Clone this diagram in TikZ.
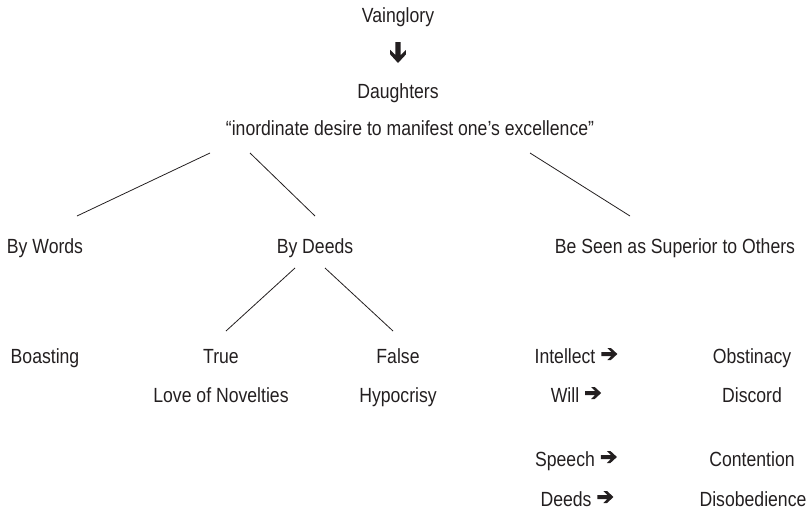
\documentclass[tikz,border=0pt]{standalone}
\usepackage{fontspec}
\setmainfont[FakeStretch=0.86]{Liberation Sans}
\definecolor{ink}{HTML}{231F20}
\newcommand{\rarr}{\hspace{6pt}\tikz[baseline=0pt,x=1pt,y=1pt]\fill[ink] (0,7) -- (10,7) -- (6,3) -- (9.5,3) -- (16,9) -- (9.5,15) -- (6,15) -- (10,11) -- (0,11) -- cycle;}
\begin{document}
\begin{tikzpicture}[x=1pt,y=-1pt,
  lbl/.style={anchor=base,inner sep=0pt,text=ink,font=\fontsize{20.5}{24}\selectfont},
  edge/.style={draw=ink,line width=0.8pt}]
\useasboundingbox (0,0) rectangle (809,514);
% top
\node[lbl] (vain) at (398,22) {Vainglory};
\coordinate (arr) at (398,42);
\fill[ink] ([xshift=-2.6pt]arr) -- ++(0,13) -- ++(-5.2,-5.2) -- ++(0,4.6) -- (398,63) -- ++(7.8,-8.4) -- ++(0,-4.6) -- ++(-5.2,5.2) -- ([xshift=2.6pt]arr) -- cycle;
\node[lbl] (daught) at (398,98) {Daughters};
\node[lbl] (quote) at (410,135) {“inordinate desire to manifest one’s excellence”};
% second level
\node[lbl] (words) at (45,253) {By Words};
\node[lbl] (deeds) at (315,253) {By Deeds};
\node[lbl] (seen) at (675,253) {Be Seen as Superior to Others};
\coordinate (q1) at (210,153); \coordinate (w1) at (77,216);
\coordinate (q2) at (250,153); \coordinate (d1) at (315,216);
\coordinate (q3) at (530,153); \coordinate (s1) at (630,216);
\draw[edge] (q1) -- (w1);
\draw[edge] (q2) -- (d1);
\draw[edge] (q3) -- (s1);
% third level
\coordinate (d2) at (295,268); \coordinate (t1) at (226,331);
\coordinate (d3) at (325,268); \coordinate (f1) at (393,331);
\draw[edge] (d2) -- (t1);
\draw[edge] (d3) -- (f1);
\node[lbl] (boast) at (45,363) {Boasting};
\node[lbl] (true) at (221,363) {True};
\node[lbl] (false) at (398,363) {False};
\node[lbl] (love) at (221,402) {Love of Novelties};
\node[lbl] (hyp) at (398,402) {Hypocrisy};
% right column
\node[lbl] (intel) at (576,363) {Intellect\rarr};
\node[lbl] (will) at (576,402) {Will\rarr};
\node[lbl] (speech) at (576,466) {Speech\rarr};
\node[lbl] (deeds2) at (577,506) {Deeds\rarr};
\node[lbl] (obst) at (752,363) {Obstinacy};
\node[lbl] (disc) at (752,402) {Discord};
\node[lbl] (cont) at (752,466) {Contention};
\node[lbl] (disob) at (753,506) {Disobedience};
\end{tikzpicture}
\end{document}
